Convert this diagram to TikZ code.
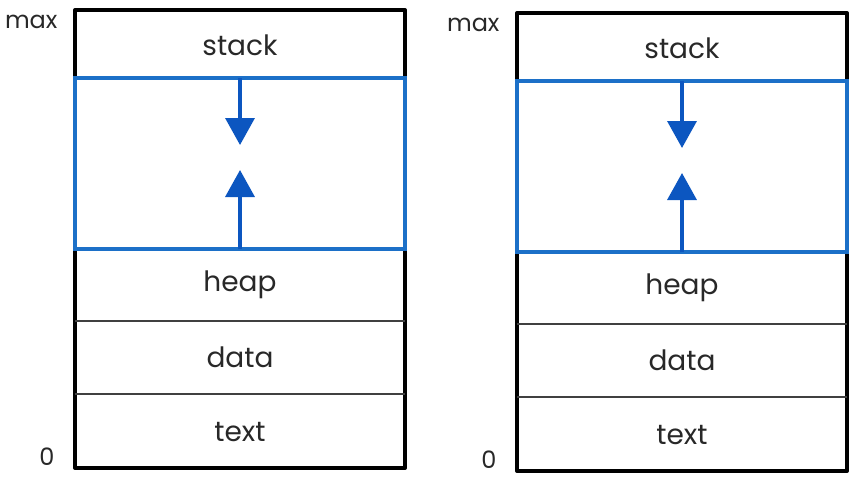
\documentclass[tikz,border=0pt]{standalone}
\usepackage{fontspec}
\setmainfont{Poppins}
\usetikzlibrary{arrows.meta}
\definecolor{gapblue}{RGB}{28,112,200}
\definecolor{arrowblue}{RGB}{12,86,192}
\definecolor{inkgray}{RGB}{40,40,40}

\begin{document}
\begin{tikzpicture}[x=1pt,y=-1pt]
	\tikzset{%
		outline/.style={line width=4pt,black,line join=round},
		divider/.style={line width=1.6pt,black!75},
		gapbox/.style={line width=3.5pt,gapblue},
		growarrow/.style={-{Triangle[width=29pt,length=27pt]},line width=3.5pt,arrowblue},
		seg/.style={font=\fontsize{28}{32}\selectfont,text=inkgray},
		addr/.style={font=\fontsize{24}{28}\selectfont,text=inkgray,anchor=east},
	}

	\useasboundingbox (0,0) rectangle (864,485);

	\def\colw{330}

	\newcommand*{\memmap}[3]{%
	\begin{scope}[shift={(#1,#2)}]
	\draw [outline] (0,68) -- (0,0) -- (\colw,0) -- (\colw,68);
	\draw [outline] (0,239) -- (0,458) -- (\colw,458) -- (\colw,239);
	\draw [divider] (0,311) -- (\colw,311);
	\draw [divider] (0,384) -- (\colw,384);
	\draw [gapbox] (0,68) rectangle (\colw,239);
	\node [seg] (#3stack) at (0.5*\colw,35) {stack};
	\node [seg] (#3heap) at (0.5*\colw,275) {heap};
	\node [seg] (#3data) at (0.5*\colw,347) {data};
	\node [seg] (#3text) at (0.5*\colw,422) {text};
	\coordinate (#3top) at (0.5*\colw,68);
	\coordinate (#3down) at (0.5*\colw,135);
	\coordinate (#3up) at (0.5*\colw,160);
	\coordinate (#3bot) at (0.5*\colw,239);
	\draw [growarrow] (#3top) -- (#3down);
	\draw [growarrow] (#3bot) -- (#3up);
	\node [addr] (#3max) at (-14,12) {max};
	\node [addr] (#3zero) at (-17,447) {0};
	\end{scope}
	}

	\memmap{75}{10}{L}
	\memmap{517}{13}{R}
\end{tikzpicture}
\end{document}
